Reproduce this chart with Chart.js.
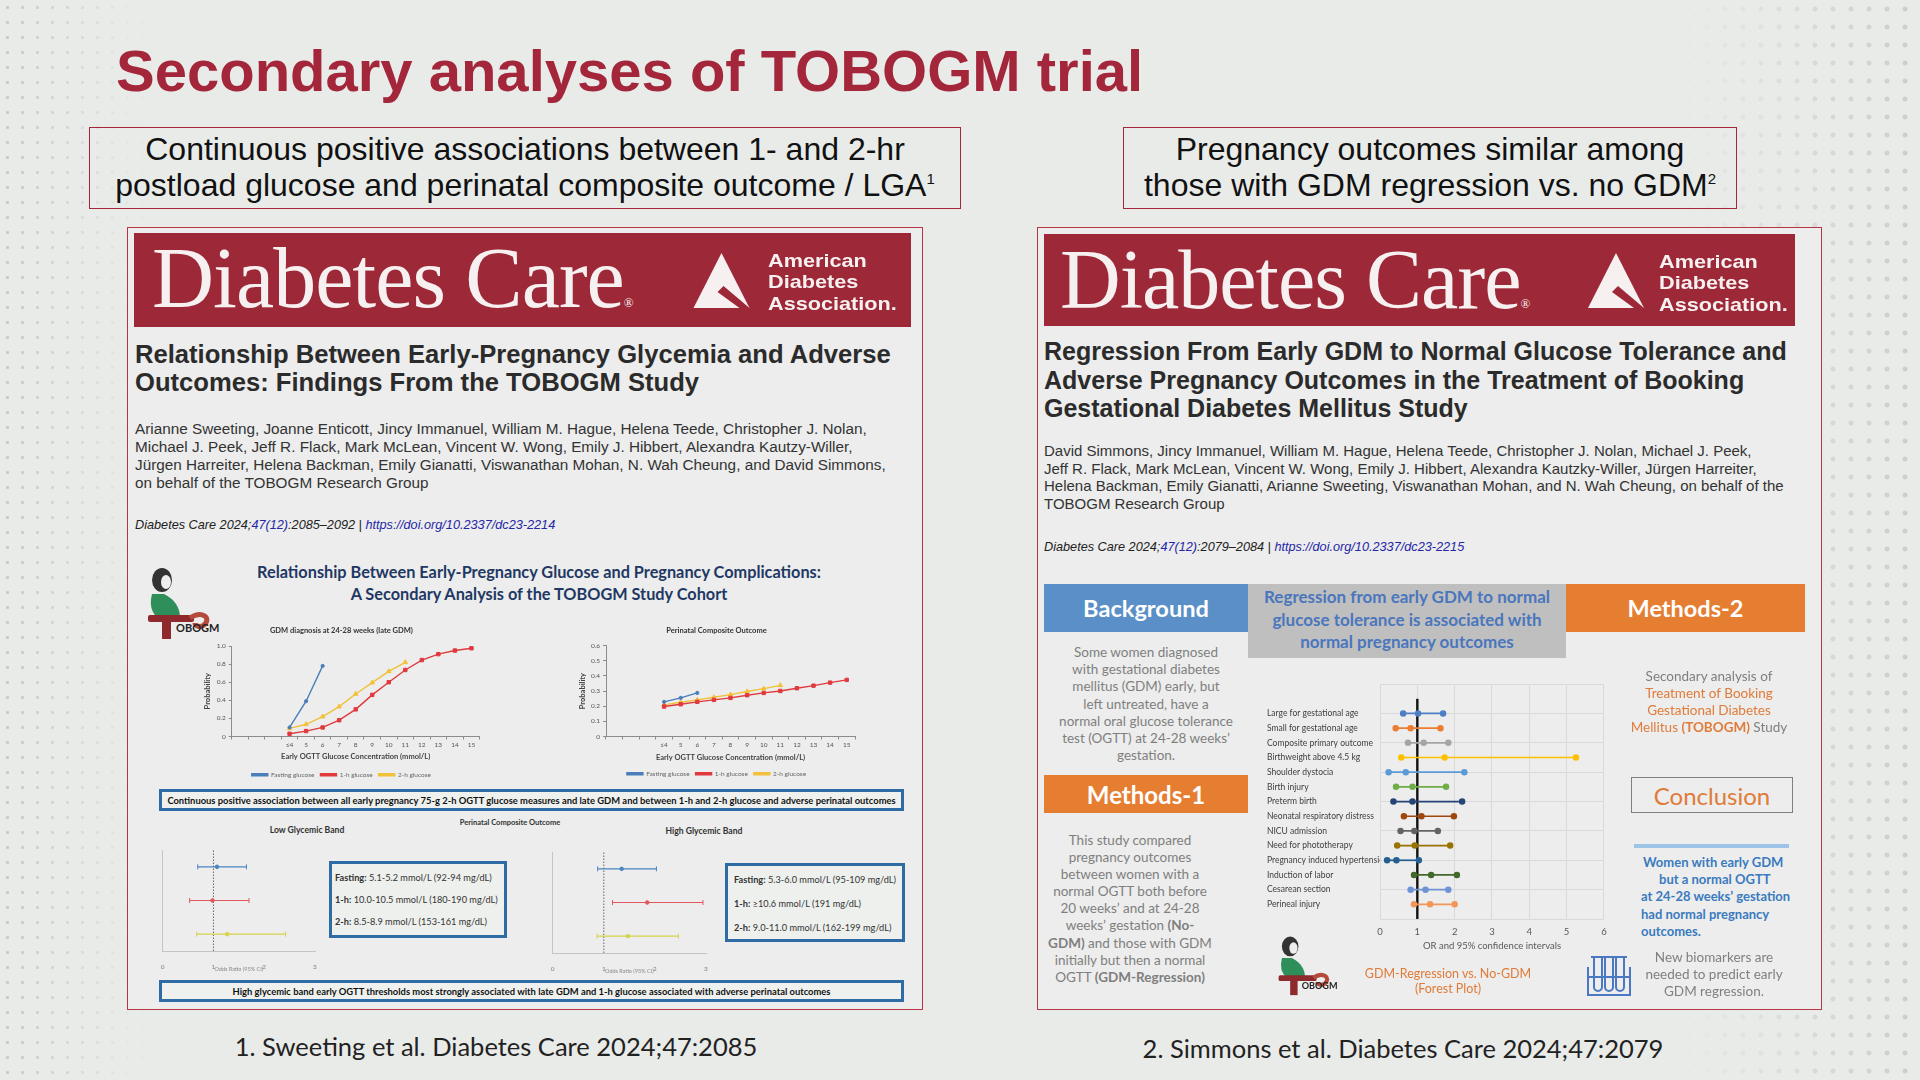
<!DOCTYPE html>
<html>
<head>
<meta charset="utf-8">
<title>Secondary analyses of TOBOGM trial</title>
<script src="https://cdn.jsdelivr.net/npm/chart.js@4.4.1/dist/chart.umd.min.js"></script>
<style>
  html, body { margin:0; padding:0; }
  body { width:1920px; height:1080px; overflow:hidden; background:#e9ebe9; font-family:"Liberation Sans", Arial, sans-serif; color:#222; }
  #slide { position:relative; width:1920px; height:1080px; }
  .a { position:absolute; white-space:nowrap; line-height:1; }
  .lato { font-family:Lato, "Open Sans", sans-serif; }
  .dots { position:absolute; top:0; height:1080px; }
  .dl { left:0; width:150px; background-image:radial-gradient(circle, #c3c5c3 0 1.3px, transparent 1.9px); background-size:15px 15px;
        -webkit-mask-image:linear-gradient(to right, rgba(0,0,0,.9), rgba(0,0,0,0)); mask-image:linear-gradient(to right, rgba(0,0,0,.9), rgba(0,0,0,0)); }
  .dr { right:0; width:240px; background-image:radial-gradient(circle, #c8cac8 0 2.2px, transparent 2.8px); background-size:18px 18px;
        -webkit-mask-image:linear-gradient(to left, rgba(0,0,0,.9), rgba(0,0,0,0)); mask-image:linear-gradient(to left, rgba(0,0,0,.9), rgba(0,0,0,0)); }
  .card { position:absolute; border:1.5px solid #b83544; box-sizing:border-box; background:#ecedec; }
  .banner { position:absolute; background:#9d2837; }
  .logo { font-family:"Liberation Serif", serif; font-size:84px; color:#f7f0f0; letter-spacing:-1px; }
  .logo span { font-size:13px; letter-spacing:0; }
  .ada { font-weight:bold; font-size:19px; line-height:21.3px; color:#f7f0f0; transform:scaleX(1.14); transform-origin:0 0; }
  .sub { position:absolute; box-sizing:border-box; border:1.5px solid #a3263a; text-align:center; font-size:32px; line-height:36px; color:#111; }
  .sub sup { font-size:15px; vertical-align:top; line-height:1; position:relative; top:4px; }
  .ptitle { font-weight:bold; font-size:25px; color:#2b2b2b; }
  .auth { font-size:15px; line-height:18px; color:#333; }
  .cite { font-style:italic; font-size:12.7px; color:#222; }
  .blue { color:#2525a8; }
  .chart { position:absolute; }
  .bbox { position:absolute; box-sizing:border-box; border:3px solid #2f6ba5; background:#eff1ef; display:flex; align-items:center; justify-content:center;
          font-family:Lato, sans-serif; font-weight:bold; font-size:9.4px; color:#111; white-space:nowrap; }
  .info { position:absolute; box-sizing:border-box; border:3px solid #2f6ba5; background:#eef0ee; font-family:Lato, sans-serif; font-size:9.2px; color:#333; white-space:nowrap; }
  .info div { line-height:22px; }
  .head { position:absolute; box-sizing:border-box; display:flex; align-items:center; justify-content:center; font-family:Lato, sans-serif; color:#fff; }
  .gtxt { font-family:Lato, sans-serif; font-size:13.5px; color:#7f7f7f; text-align:center; position:absolute; white-space:nowrap; }
  .org { color:#e07b39; }
</style>
</head>
<body>
<div id="slide">
  <div class="dots dl"></div>
  <div class="dots dr"></div>

  <div class="a" style="left:116px;top:42px;font-size:58px;font-weight:bold;color:#a3263a;">Secondary analyses of TOBOGM trial</div>

  <div class="sub" style="left:89px;top:127px;width:872px;height:82px;padding-top:3px;">Continuous positive associations between 1- and 2-hr<br>postload glucose and perinatal composite outcome / LGA<sup>1</sup></div>
  <div class="sub" style="left:1123px;top:127px;width:614px;height:82px;padding-top:3px;">Pregnancy outcomes similar among<br>those with GDM regression vs. no GDM<sup>2</sup></div>

  <!-- paper 1 -->
  <div class="card" style="left:127px;top:227px;width:796px;height:783px;"></div>
  <div class="banner" style="left:134px;top:233px;width:777px;height:94px;"></div>
  <div class="a logo" style="left:152px;top:235px;font-size:86px;">Diabetes Care<span>®</span></div>
  <svg class="a" style="left:693px;top:253px;" width="57" height="55" viewBox="0 0 56 55">
    <polygon points="28,0 56,55 0,55" fill="#f7f0f0"/>
    <polygon points="30,33 56,55 46,55 24,39" fill="#9d2837"/>
  </svg>
  <div class="a ada" style="left:768px;top:250px;">American<br>Diabetes<br>Association.</div>

  <div class="a ptitle" style="left:135px;top:340px;line-height:28px;font-size:25.6px;">Relationship Between Early-Pregnancy Glycemia and Adverse<br>Outcomes: Findings From the TOBOGM Study</div>
  <div class="a auth" style="left:135px;top:420px;font-size:15.3px;">Arianne Sweeting, Joanne Enticott, Jincy Immanuel, William M. Hague, Helena Teede, Christopher J. Nolan,<br>Michael J. Peek, Jeff R. Flack, Mark McLean, Vincent W. Wong, Emily J. Hibbert, Alexandra Kautzy-Willer,<br>Jürgen Harreiter, Helena Backman, Emily Gianatti, Viswanathan Mohan, N. Wah Cheung, and David Simmons,<br>on behalf of the TOBOGM Research Group</div>
  <div class="a cite" style="left:135px;top:519px;">Diabetes Care 2024;<span class="blue">47(12)</span>:2085–2092 | <span class="blue">https://doi.org/10.2337/dc23-2214</span></div>

  <svg class="a" style="left:140px;top:566px;" width="86" height="73" viewBox="0 0 86 73" id="logo1"></svg>
  <div class="a lato" style="left:239px;top:561px;width:600px;text-align:center;font-weight:bold;font-size:16.3px;line-height:22px;color:#1f3864;">Relationship Between Early-Pregnancy Glucose and Pregnancy Complications:<br>A Secondary Analysis of the TOBOGM Study Cohort</div>

  <div class="chart" style="left:201px;top:622px;width:298px;height:166px;"><canvas id="gdmChart"></canvas></div>
  <div class="chart" style="left:578px;top:622px;width:304px;height:165px;"><canvas id="pcoChart"></canvas></div>

  <div class="bbox" style="left:159px;top:789px;width:745px;height:22px;">Continuous positive association between all early pregnancy 75-g 2-h OGTT glucose measures and late GDM and between 1-h and 2-h glucose and adverse perinatal outcomes</div>

  <div class="a lato" style="left:410px;top:819px;width:200px;text-align:center;font-weight:bold;font-size:7.5px;color:#333;">Perinatal Composite Outcome</div>
  <div class="a lato" style="left:207px;top:826px;width:200px;text-align:center;font-weight:bold;font-size:8.6px;color:#333;">Low Glycemic Band</div>
  <div class="a lato" style="left:604px;top:827px;width:200px;text-align:center;font-weight:bold;font-size:8.6px;color:#333;">High Glycemic Band</div>

  <div class="chart" style="left:150px;top:843px;width:172px;height:133px;"><canvas id="lowChart"></canvas></div>
  <div class="chart" style="left:540px;top:845px;width:173px;height:133px;"><canvas id="highChart"></canvas></div>

  <div class="info" style="left:329px;top:861px;width:178px;height:77px;padding:3px 0 0 3px;">
    <div><b>Fasting:</b> 5.1-5.2 mmol/L (92-94 mg/dL)</div>
    <div><b>1-h:</b> 10.0-10.5 mmol/L (180-190 mg/dL)</div>
    <div><b>2-h:</b> 8.5-8.9 mmol/L (153-161 mg/dL)</div>
  </div>
  <div class="info" style="left:725px;top:863px;width:180px;height:79px;padding:2px 0 0 6px;">
    <div style="line-height:24px;"><b>Fasting:</b> 5.3-6.0 mmol/L (95-109 mg/dL)</div>
    <div style="line-height:24px;"><b>1-h:</b> ≥10.6 mmol/L (191 mg/dL)</div>
    <div style="line-height:24px;"><b>2-h:</b> 9.0-11.0 mmol/L (162-199 mg/dL)</div>
  </div>

  <div class="bbox" style="left:159px;top:980px;width:745px;height:22px;">High glycemic band early OGTT thresholds most strongly associated with late GDM and 1-h glucose associated with adverse perinatal outcomes</div>

  <!-- paper 2 -->
  <div class="card" style="left:1037px;top:227px;width:785px;height:783px;"></div>
  <div class="banner" style="left:1044px;top:234px;width:751px;height:92px;"></div>
  <div class="a logo" style="left:1060px;top:238px;">Diabetes Care<span>®</span></div>
  <svg class="a" style="left:1586px;top:253px;" width="60" height="55" viewBox="0 0 56 55">
    <polygon points="28,0 56,55 0,55" fill="#f7f0f0"/>
    <polygon points="30,33 56,55 46,55 24,39" fill="#9d2837"/>
  </svg>
  <div class="a ada" style="left:1659px;top:251px;">American<br>Diabetes<br>Association.</div>

  <div class="a ptitle" style="left:1044px;top:337px;line-height:28.5px;">Regression From Early GDM to Normal Glucose Tolerance and<br>Adverse Pregnancy Outcomes in the Treatment of Booking<br>Gestational Diabetes Mellitus Study</div>
  <div class="a auth" style="left:1044px;top:442px;line-height:17.7px;">David Simmons, Jincy Immanuel, William M. Hague, Helena Teede, Christopher J. Nolan, Michael J. Peek,<br>Jeff R. Flack, Mark McLean, Vincent W. Wong, Emily J. Hibbert, Alexandra Kautzky-Willer, Jürgen Harreiter,<br>Helena Backman, Emily Gianatti, Arianne Sweeting, Viswanathan Mohan, and N. Wah Cheung, on behalf of the<br>TOBOGM Research Group</div>
  <div class="a cite" style="left:1044px;top:541px;">Diabetes Care 2024;<span class="blue">47(12)</span>:2079–2084 | <span class="blue">https://doi.org/10.2337/dc23-2215</span></div>

  <div class="head" style="left:1044px;top:584px;width:204px;height:48px;background:#5b8fc8;font-weight:bold;font-size:23.6px;">Background</div>
  <div class="head" style="left:1248px;top:584px;width:318px;height:74px;background:#bfbfbf;"></div>
  <div class="a lato" style="left:1248px;top:586px;width:318px;text-align:center;font-size:17px;font-weight:bold;line-height:22.5px;color:#4a76bd;">Regression from early GDM to normal<br>glucose tolerance is associated with<br>normal pregnancy outcomes</div>
  <div class="head" style="left:1566px;top:584px;width:239px;height:48px;background:#e67e32;font-size:23.5px;font-weight:bold;">Methods-2</div>

  <div class="gtxt" style="left:1046px;top:644px;width:200px;line-height:17.2px;">Some women diagnosed<br>with gestational diabetes<br>mellitus (GDM) early, but<br>left untreated, have a<br>normal oral glucose tolerance<br>test (OGTT) at 24-28 weeks’<br>gestation.</div>

  <div class="head" style="left:1044px;top:775px;width:204px;height:38px;background:#e67e32;font-size:24px;font-weight:bold;">Methods-1</div>
  <div class="gtxt" style="left:1030px;top:832px;width:200px;line-height:17.1px;">This study compared<br>pregnancy outcomes<br>between women with a<br>normal OGTT both before<br>20 weeks’ and at 24-28<br>weeks’ gestation <b>(No-</b><br><b>GDM)</b> and those with GDM<br>initially but then a normal<br>OGTT <b>(GDM-Regression)</b></div>

  <div class="chart" style="left:1262px;top:676px;width:352px;height:280px;"><canvas id="forestChart"></canvas></div>

  <svg class="a" style="left:1272px;top:933px;" width="71" height="64" viewBox="0 0 86 73" id="logo2"></svg>
  <div class="gtxt org" style="left:1348px;top:966px;width:200px;font-size:12.5px;line-height:15px;">GDM-Regression vs. No-GDM<br>(Forest Plot)</div>

  <div class="gtxt" style="left:1609px;top:668px;width:200px;line-height:17px;">Secondary analysis of<br><span class="org">Treatment of Booking</span><br><span class="org">Gestational Diabetes</span><br><span class="org">Mellitus <b>(TOBOGM)</b></span> Study</div>

  <div class="head" style="left:1631px;top:777px;width:162px;height:36px;border:1.5px solid #808080;color:#e07b39;font-size:24px;">Conclusion</div>
  <div class="a" style="left:1634px;top:844px;width:155px;height:4px;background:#9dc3e6;"></div>
  <div class="a lato" style="left:1641px;top:854px;font-weight:bold;font-size:13px;line-height:17.2px;color:#3a7bc0;"><span style="padding-left:2px">Women with early GDM</span><br><span style="padding-left:18px">but a normal OGTT</span><br>at 24-28 weeks’ gestation<br>had normal pregnancy<br>outcomes.</div>

  <svg class="a" style="left:1584px;top:953px;" width="50" height="45" viewBox="0 0 50 45">
    <g fill="none" stroke="#4a78c2" stroke-width="2">
      <path d="M10 4 v30 a4 4 0 0 0 8 0 v-30"/>
      <path d="M21 4 v30 a4 4 0 0 0 8 0 v-30"/>
      <path d="M32 4 v30 a4 4 0 0 0 8 0 v-30"/>
      <path d="M7 4 h36"/>
      <path d="M4 14 v28 h42 v-28"/>
      <path d="M4 24 h42"/>
    </g>
  </svg>
  <div class="gtxt" style="left:1614px;top:949px;width:200px;line-height:17px;">New biomarkers are<br>needed to predict early<br>GDM regression.</div>

  <div class="a lato" style="left:196px;top:1034px;width:600px;text-align:center;font-size:25.5px;line-height:25px;color:#222;">1. Sweeting et al. Diabetes Care 2024;47:2085</div>
  <div class="a lato" style="left:1103px;top:1036px;width:600px;text-align:center;font-size:25.5px;line-height:25px;color:#222;">2. Simmons et al. Diabetes Care 2024;47:2079</div>
</div>

<script>
// values
var glucoseCats = ['', '', '', '≤4', '5', '6', '7', '8', '9', '10', '11', '12', '13', '14', '15'];
var glucoseSeries = ['Fasting glucose', '1-h glucose', '2-h glucose'];
var gdmFasting = [null, null, null, 0.10, 0.39, 0.78];
var gdmOneHour = [null, null, null, 0.03, 0.06, 0.10, 0.18, 0.30, 0.46, 0.60, 0.735, 0.845, 0.91, 0.95, 0.975];
var gdmTwoHour = [null, null, null, 0.09, 0.135, 0.22, 0.33, 0.47, 0.595, 0.72, 0.82];
var pcoFasting = [null, null, null, 0.229, 0.255, 0.288];
var pcoOneHour = [null, null, null, 0.198, 0.213, 0.229, 0.242, 0.255, 0.273, 0.288, 0.301, 0.319, 0.336, 0.356, 0.374];
var pcoTwoHour = [null, null, null, 0.209, 0.226, 0.242, 0.259, 0.277, 0.297, 0.316, 0.338];

var bandRows = ['Fasting', '1-h', '2-h'];
var lowOR = [1.07, 0.98, 1.27];
var lowLower = [0.69, 0.53, 0.67];
var lowUpper = [1.65, 1.70, 2.42];
var highOR = [1.35, 1.85, 1.47];
var highLower = [0.88, 1.17, 0.87];
var highUpper = [2.03, 2.94, 2.46];

var outcomes = ['Large for gestational age', 'Small for gestational age', 'Composite primary outcome', 'Birthweight above 4.5 kg',
  'Shoulder dystocia', 'Birth injury', 'Preterm birth', 'Neonatal respiratory distress', 'NICU admission',
  'Need for phototherapy', 'Pregnancy induced hypertension', 'Induction of labor', 'Cesarean section', 'Perineal injury'];
var outLower = [0.62, 0.42, 0.75, 0.57, 0.23, 0.43, 0.36, 0.64, 0.55, 0.46, 0.19, 0.91, 0.82, 0.91];
var outOR    = [1.02, 0.82, 1.17, 1.73, 0.69, 0.87, 0.87, 1.11, 0.92, 0.93, 0.44, 1.37, 1.22, 1.34];
var outUpper = [1.69, 1.62, 1.83, 5.25, 2.26, 1.77, 2.20, 1.98, 1.55, 1.88, 1.04, 2.06, 1.83, 2.00];

// colours
var seriesColors = ['#4a7ebb', '#e0393e', '#f2c13a'];
var bandColors = ['#4a86c2', '#e0585c', '#d6d24c'];
var outColors = ['#4f7fc4', '#ed7d31', '#a5a5a5', '#ffc000', '#5b9bd5', '#70ad47', '#264478', '#9e480e',
  '#636363', '#997300', '#255e91', '#43682b', '#6f93d4', '#f1975a'];

Chart.defaults.font.family = 'Lato';
Chart.defaults.animation = false;
Chart.defaults.maintainAspectRatio = false;

// tobogm logo, drawn twice
var logoSvg = '<ellipse cx="22" cy="14" rx="10" ry="12" fill="#333"/>' +
  '<ellipse cx="26" cy="16" rx="5" ry="7" fill="#eeeeee"/>' +
  '<path d="M12 28 Q8 44 18 52 L40 52 Q40 36 24 28 Z" fill="#2f8f5b"/>' +
  '<rect x="8" y="49" width="46" height="7" rx="2" fill="#8e2a2e"/>' +
  '<path d="M50 52 C62 44 72 52 64 59 C60 62 55 60 55 57" stroke="#b54a3c" stroke-width="5" fill="none"/>' +
  '<rect x="22" y="54" width="9" height="19" fill="#8e2a2e"/>' +
  '<text x="36" y="66" font-family="Lato" font-weight="bold" font-size="11" fill="#222">OBOGM</text>';
document.getElementById('logo1').innerHTML = logoSvg;
document.getElementById('logo2').innerHTML = logoSvg;

function glucoseChart(id, title, fasting, oneH, twoH, yMax, step, lay) {
  var values = [fasting, oneH, twoH];
  var styles = ['circle', 'rect', 'triangle'];
  var radii = [1.6, 2.4, 2.6];
  var ds = values.map(function (v, i) {
    return {
      label: glucoseSeries[i], data: v, borderColor: seriesColors[i], backgroundColor: seriesColors[i],
      borderWidth: 1.4, pointStyle: styles[i], pointRadius: radii[i], pointBorderWidth: 1
    };
  });
  return new Chart(document.getElementById(id), {
    type: 'line',
    data: { labels: glucoseCats, datasets: ds },
    options: {
      layout: { padding: { left: lay.left, right: lay.right, top: 0, bottom: 0 } },
      plugins: {
        title: { display: true, text: title, font: { size: 7.5, weight: 'bold' }, color: '#333', padding: { top: 4, bottom: lay.titleGap } },
        legend: { position: 'bottom', labels: { font: { size: 6.5 }, color: '#666', boxWidth: 16, boxHeight: 2, padding: 6 } },
        tooltip: { enabled: false }
      },
      scales: {
        x: {
          offset: true,
          grid: { offset: true, drawOnChartArea: false, tickLength: 3, color: '#8c8c8c' },
          border: { color: '#8c8c8c' },
          ticks: { font: { size: 6.5 }, color: '#555', padding: 1.5, maxRotation: 0, autoSkip: false },
          title: { display: true, text: 'Early OGTT Glucose Concentration (mmol/L)', font: { size: 7.5, weight: 'bold' }, color: '#444', padding: { top: 0, bottom: lay.xTitlePad } },
          afterFit: function (s) { s.height = lay.xHeight; }
        },
        y: {
          min: 0, max: yMax,
          ticks: { stepSize: step, font: { size: 6.5 }, color: '#555', padding: 3 },
          grid: { drawOnChartArea: false, tickLength: 3, color: '#8c8c8c' },
          border: { color: '#8c8c8c' },
          title: { display: true, text: 'Probability', font: { size: 7.5, weight: 'bold' }, color: '#444', padding: 0 },
          afterFit: function (s) { s.width = lay.yWidth; }
        }
      }
    }
  });
}

glucoseChart('gdmChart', 'GDM diagnosis at 24-28 weeks (late GDM)', gdmFasting, gdmOneHour, gdmTwoHour, 1, 0.2,
  { left: 2, right: 19.3, titleGap: 11, xHeight: 29, xTitlePad: 4, yWidth: 28.7 });
glucoseChart('pcoChart', 'Perinatal Composite Outcome', pcoFasting, pcoOneHour, pcoTwoHour, 0.6, 0.1,
  { left: 0, right: 27, titleGap: 10.7, xHeight: 28, xTitlePad: 2.3, yWidth: 28 });

function bandChart(id, or, lo, hi) {
  var ds = [];
  bandRows.forEach(function (row, i) {
    ds.push({
      data: [{ x: lo[i], y: row }, { x: hi[i], y: row }], showLine: true,
      borderColor: bandColors[i], borderWidth: 1.2, pointStyle: 'line', pointRotation: 90,
      pointRadius: 2.5, pointBorderColor: bandColors[i], pointBorderWidth: 1
    });
    ds.push({ data: [{ x: or[i], y: row }], backgroundColor: bandColors[i], borderColor: bandColors[i], pointRadius: 1.8 });
  });
  ds.push({
    data: [{ x: 1, y: 0 }, { x: 1, y: 1 }], yAxisID: 'yref', showLine: true,
    borderColor: '#666', borderWidth: 1, borderDash: [1.5, 1.5], pointRadius: 0
  });
  return new Chart(document.getElementById(id), {
    type: 'scatter',
    data: { datasets: ds },
    options: {
      layout: { padding: { left: 0, top: 7, right: 7, bottom: 0 } },
      plugins: { legend: { display: false }, tooltip: { enabled: false } },
      scales: {
        x: {
          min: 0, max: 3,
          ticks: { stepSize: 1, autoSkip: false, font: { size: 6.5 }, color: '#808080', padding: 4 },
          grid: { display: false },
          border: { color: '#c4c4c4' },
          title: { display: true, text: 'Odds Ratio (95% CI)', font: { size: 5.5 }, color: '#888', padding: { top: 0, bottom: 3.5 } },
          afterFit: function (s) { s.height = 25; }
        },
        y: {
          type: 'category', labels: bandRows, offset: true,
          ticks: { display: false }, grid: { display: false },
          border: { color: '#c4c4c4' },
          afterFit: function (s) { s.width = 12.7; }
        },
        yref: { type: 'linear', min: 0, max: 1, display: false }
      }
    }
  });
}

bandChart('lowChart', lowOR, lowLower, lowUpper);
bandChart('highChart', highOR, highLower, highUpper);

// forest plot: row i sits at y = outcomes.length - i
var forestSets = outcomes.map(function (name, i) {
  var y = outcomes.length - i;
  return {
    label: name,
    data: [{ x: outLower[i], y: y }, { x: outOR[i], y: y }, { x: outUpper[i], y: y }],
    showLine: true, borderColor: outColors[i], backgroundColor: outColors[i], borderWidth: 1.7, pointRadius: 2.4
  };
});
forestSets.push({
  label: 'ref', data: [{ x: 1, y: 0 }, { x: 1, y: 15 }], showLine: true,
  borderColor: '#111', borderWidth: 2.4, pointRadius: 0
});

new Chart(document.getElementById('forestChart'), {
  type: 'scatter',
  data: { datasets: forestSets },
  options: {
    layout: { padding: { left: 5, top: 6.7, right: 7.3, bottom: 0 } },
    plugins: { legend: { display: false }, tooltip: { enabled: false } },
    scales: {
      x: {
        min: 0, max: 6,
        ticks: { stepSize: 1, font: { size: 9.5 }, color: '#595959', padding: 7.3 },
        grid: { color: '#d9d9d9', drawTicks: false },
        border: { color: '#d9d9d9' },
        title: { display: true, text: 'OR and 95% confidence intervals', font: { size: 9.5 }, color: '#595959', padding: { top: 0, bottom: 4.3 } },
        afterFit: function (s) { s.height = 37; }
      },
      y: {
        min: 0, max: 16,
        afterBuildTicks: function (s) {
          var t = [];
          for (var v = 0; v <= 16; v++) t.push({ value: v });
          s.ticks = t;
        },
        ticks: {
          autoSkip: false, crossAlign: 'far', font: { size: 8.5 }, color: '#404040',
          callback: function (v) { return (v >= 1 && v <= outcomes.length) ? outcomes[outcomes.length - v] : ''; }
        },
        grid: { drawTicks: false, color: function (c) { return c.tick && c.tick.value % 2 === 0 ? '#d9d9d9' : 'rgba(0,0,0,0)'; } },
        border: { display: false },
        afterFit: function (s) { s.width = 113; }
      }
    }
  }
});
</script>
</body>
</html>
